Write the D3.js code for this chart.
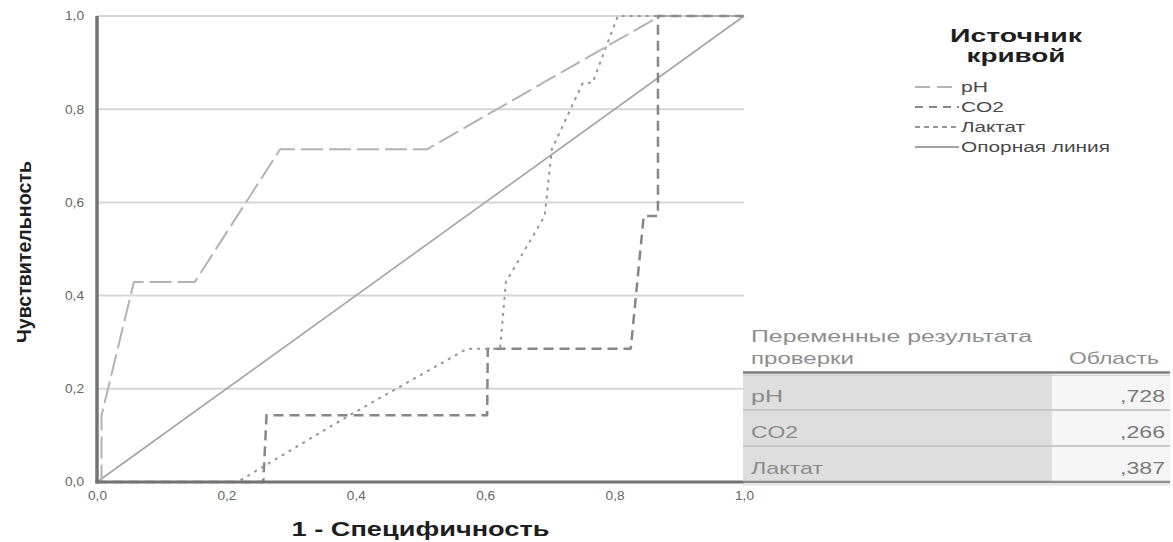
<!DOCTYPE html>
<html>
<head>
<meta charset="utf-8">
<script src="https://cdn.jsdelivr.net/npm/d3@7"></script>
<style>
  html, body { margin: 0; padding: 0; background: #fff; }
  svg { display: block; font-family: "Liberation Sans", Arial, sans-serif; }
</style>
</head>
<body>
<svg id="chart" width="1173" height="542"></svg>
<script>
// ---------------- data ----------------
const phFpr  = [0, 0.007, 0.007, 0.057, 0.151, 0.283, 0.510, 0.870, 1];
const phTpr  = [0, 0, 0.143, 0.429, 0.429, 0.714, 0.714, 1, 1];

const co2Fpr = [0, 0.257, 0.262, 0.603, 0.604, 0.825, 0.845, 0.867, 0.867, 1];
const co2Tpr = [0, 0, 0.143, 0.143, 0.286, 0.286, 0.571, 0.571, 1, 1];

const lacFpr = [0, 0.217, 0.390, 0.572, 0.623, 0.632, 0.692, 0.703, 0.751, 0.766, 0.805, 1];
const lacTpr = [0, 0, 0.143, 0.286, 0.286, 0.429, 0.571, 0.714, 0.857, 0.857, 1, 1];

const refFpr = [0, 1];
const refTpr = [0, 1];

const tickValues = [0, 0.2, 0.4, 0.6, 0.8, 1.0];
const tickLabels = ["0,0", "0,2", "0,4", "0,6", "0,8", "1,0"];

const legendTitle  = ["Источник", "кривой"];
const legendLabels = ["pH", "CO2", "Лактат", "Опорная линия"];

const tableHeader = ["Переменные результата", "проверки", "Область"];
const tableVars   = ["pH", "CO2", "Лактат"];
const tableAreas  = [0.728, 0.266, 0.387];

const xTitle = "1 - Специфичность";
const yTitle = "Чувствительность";

// ---------------- setup ----------------
const svg = d3.select("#chart");
const x = d3.scaleLinear().domain([0, 1]).range([97, 744]);
const y = d3.scaleLinear().domain([0, 1]).range([482, 16]);

const styles = {
  "pH":            { color: "#b3b3b3", width: 2,   dash: "22,6" },
  "CO2":           { color: "#878787", width: 2.5, dash: "10,6" },
  "Лактат":        { color: "#969696", width: 2,   dash: "3,5" },
  "Опорная линия": { color: "#a3a3a3", width: 1.6, dash: null }
};

// ---------------- grid ----------------
svg.append("g").selectAll("line")
  .data(tickValues.slice(1))
  .join("line")
  .attr("x1", x(0)).attr("x2", x(1))
  .attr("y1", d => y(d)).attr("y2", d => y(d))
  .attr("stroke", "#d6d6d6").attr("stroke-width", 2);

// ---------------- curves ----------------
const line = d3.line().x(d => x(d[0])).y(d => y(d[1]));
const series = [
  { name: "Опорная линия", fpr: refFpr, tpr: refTpr },
  { name: "pH",            fpr: phFpr,  tpr: phTpr },
  { name: "CO2",           fpr: co2Fpr, tpr: co2Tpr },
  { name: "Лактат",        fpr: lacFpr, tpr: lacTpr }
];
series.forEach(s => {
  const st = styles[s.name];
  svg.append("path")
    .datum(s.fpr.map((f, i) => [f, s.tpr[i]]))
    .attr("d", line)
    .attr("fill", "none")
    .attr("stroke", st.color)
    .attr("stroke-width", st.width)
    .attr("stroke-dasharray", st.dash)
    .attr("stroke-linejoin", "round");
});

// ---------------- axes ----------------
const fmtTick = d => tickLabels[tickValues.indexOf(d)];
const yAxis = svg.append("g").attr("transform", `translate(${x(0)},0)`)
  .call(d3.axisLeft(y).tickValues(tickValues).tickFormat(fmtTick).tickSize(0).tickPadding(13));
const xAxis = svg.append("g").attr("transform", `translate(0,${y(0)})`)
  .call(d3.axisBottom(x).tickValues(tickValues).tickFormat(fmtTick).tickSize(0).tickPadding(9));
[yAxis, xAxis].forEach(g => {
  g.select(".domain").remove();
  g.selectAll("text")
    .attr("fill", "#666666")
    .attr("font-size", 12)
    .attr("font-family", "'Liberation Sans', Arial, sans-serif")
    .attr("textLength", 19)
    .attr("lengthAdjust", "spacingAndGlyphs");
});
svg.append("line")
  .attr("x1", x(0)).attr("x2", x(0)).attr("y1", y(1)).attr("y2", y(0) + 1.5)
  .attr("stroke", "#737373").attr("stroke-width", 3.5);
svg.append("line")
  .attr("x1", x(0) - 1.5).attr("x2", x(1)).attr("y1", y(0)).attr("y2", y(0))
  .attr("stroke", "#737373").attr("stroke-width", 3);

// axis titles
svg.append("text")
  .attr("transform", `translate(${(x(0) + x(1)) / 2},536)`)
  .attr("text-anchor", "middle")
  .attr("font-size", 20).attr("font-weight", "bold").attr("fill", "#1e1e1e")
  .attr("textLength", 258).attr("lengthAdjust", "spacingAndGlyphs")
  .text(xTitle);
svg.append("text")
  .attr("transform", `translate(31,252) rotate(-90)`)
  .attr("text-anchor", "middle")
  .attr("font-size", 21).attr("font-weight", "bold").attr("fill", "#1e1e1e")
  .attr("textLength", 182).attr("lengthAdjust", "spacingAndGlyphs")
  .text(yTitle);

// ---------------- legend ----------------
const legendTitleLen = [132, 99];
svg.append("g").selectAll("text")
  .data(legendTitle)
  .join("text")
  .attr("x", 1016).attr("y", (d, i) => 42 + i * 20)
  .attr("text-anchor", "middle")
  .attr("font-size", 18).attr("font-weight", "bold").attr("fill", "#1e1e1e")
  .attr("textLength", (d, i) => legendTitleLen[i]).attr("lengthAdjust", "spacingAndGlyphs")
  .text(d => d);

const legendTextLen = [27, 43, 64, 149];
const legendDash = { "pH": "15,7", "CO2": "8,6", "Лактат": "5,4", "Опорная линия": null };
const lg = svg.append("g").selectAll("g")
  .data(legendLabels)
  .join("g")
  .attr("transform", (d, i) => `translate(915,${87 + i * 20})`);
lg.append("line")
  .attr("x1", 0).attr("x2", 44).attr("y1", 0).attr("y2", 0)
  .attr("stroke", d => styles[d].color)
  .attr("stroke-width", 1.8)
  .attr("stroke-dasharray", d => legendDash[d]);
lg.append("text")
  .attr("x", 46).attr("y", 5)
  .attr("font-size", 14).attr("fill", "#4a4a4a")
  .attr("textLength", (d, i) => legendTextLen[i]).attr("lengthAdjust", "spacingAndGlyphs")
  .text(d => d);

// ---------------- table ----------------
const tL = 743, tSplit = 1052, tR = 1170, rowTop = 374, rowH = 36;
const tg = svg.append("g");
tg.append("text").attr("x", 751).attr("y", 342)
  .attr("font-size", 17).attr("fill", "#8e8e8e")
  .attr("textLength", 281).attr("lengthAdjust", "spacingAndGlyphs")
  .text(tableHeader[0]);
tg.append("text").attr("x", 751).attr("y", 364)
  .attr("font-size", 17).attr("fill", "#8e8e8e")
  .attr("textLength", 103).attr("lengthAdjust", "spacingAndGlyphs")
  .text(tableHeader[1]);
tg.append("text").attr("x", 1159).attr("y", 364)
  .attr("text-anchor", "end")
  .attr("font-size", 17).attr("fill", "#8e8e8e")
  .attr("textLength", 90).attr("lengthAdjust", "spacingAndGlyphs")
  .text(tableHeader[2]);

const varLen = [32, 47, 72];
const fmtArea = v => "," + d3.format(".3f")(v).split(".")[1];
tableVars.forEach((name, i) => {
  const top = rowTop + i * rowH;
  tg.append("rect").attr("x", tL).attr("y", top).attr("width", tSplit - tL).attr("height", rowH)
    .attr("fill", "#dedede");
  tg.append("rect").attr("x", tSplit).attr("y", top).attr("width", tR - tSplit).attr("height", rowH)
    .attr("fill", "#f5f5f5");
  tg.append("text").attr("x", 751).attr("y", top + 28)
    .attr("font-size", 17).attr("fill", "#8a8a8a")
    .attr("textLength", varLen[i]).attr("lengthAdjust", "spacingAndGlyphs")
    .text(name);
  tg.append("text").attr("x", 1165).attr("y", top + 28)
    .attr("text-anchor", "end")
    .attr("font-size", 17).attr("fill", "#7a7a7a")
    .attr("textLength", 45).attr("lengthAdjust", "spacingAndGlyphs")
    .text(fmtArea(tableAreas[i]));
  if (i > 0) {
    tg.append("line").attr("x1", tL).attr("x2", tR).attr("y1", top).attr("y2", top)
      .attr("stroke", "#bdbdbd").attr("stroke-width", 1.5);
  }
});
tg.append("line").attr("x1", tL).attr("x2", tR).attr("y1", 372.5).attr("y2", 372.5)
  .attr("stroke", "#7e7e7e").attr("stroke-width", 2.5);
tg.append("line").attr("x1", tL).attr("x2", tR).attr("y1", 375.5).attr("y2", 375.5)
  .attr("stroke", "#cfcfcf").attr("stroke-width", 1);
tg.append("line").attr("x1", tL).attr("x2", tR).attr("y1", rowTop + 3 * rowH).attr("y2", rowTop + 3 * rowH)
  .attr("stroke", "#8e8e8e").attr("stroke-width", 2.5);
tg.append("line").attr("x1", tL).attr("x2", tR).attr("y1", rowTop + 3 * rowH + 3).attr("y2", rowTop + 3 * rowH + 3)
  .attr("stroke", "#d5d5d5").attr("stroke-width", 1);
</script>
</body>
</html>
